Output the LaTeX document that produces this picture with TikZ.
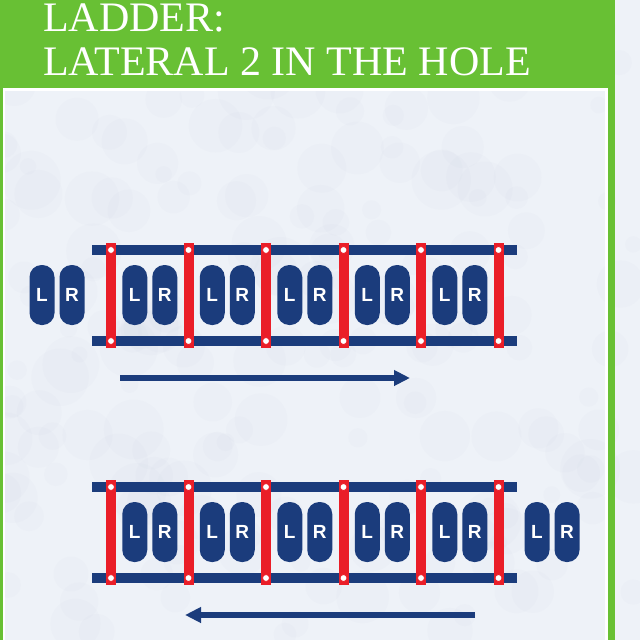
\documentclass[tikz,border=0pt]{standalone}
\usepackage{fontspec}
\setmainfont{Liberation Serif}
\newfontfamily\footfont{Liberation Sans}
\usetikzlibrary{arrows.meta}

\definecolor{headgreen}{RGB}{104,192,52}
\definecolor{navy}{RGB}{27,60,124}
\definecolor{rungred}{RGB}{234,30,40}
\definecolor{snow}{RGB}{238,242,248}
\definecolor{snowshade}{RGB}{196,206,224}

\tikzset{
  title/.style={anchor=base west, inner sep=0pt, text=white, font=\fontsize{42}{45}\selectfont},
  foot/.style={fill=navy, rounded corners=12pt, minimum width=25pt, minimum height=60pt, inner sep=0pt, text=white, font=\footfont\bfseries\fontsize{19}{19}\selectfont},
  rail/.style={fill=navy},
  rung/.style={fill=rungred},
  peg/.style={fill=white, draw=rungred, line width=0.8pt},
  move/.style={draw=navy, line width=6pt, -{Triangle[length=16pt,width=15pt]}},
}

\begin{document}
\begin{tikzpicture}[x=1pt,y=-1pt]
    \useasboundingbox (0,0) rectangle (640,640);
    \fill[snow] (0,0) rectangle (640,640);
    % snowy mottling
    \pgfmathsetseed{11}
    \foreach \k in {1,...,220} {
        \fill[snowshade, opacity=0.07] (640*rnd,640*rnd) circle [radius={(8+22*rnd)*1pt}];
    }
    % green frame and header
    \fill[headgreen] (0,0) rectangle (615,88);
    \fill[headgreen] (608,88) rectangle (615,640);
    \fill[headgreen] (0,88) rectangle (2.5,640);
    \draw[white, line width=2.5pt] (4,641) -- (4,89.5) -- (606.5,89.5) -- (606.5,641);
    \node[title] (head1) at (43,31) {LADDER:};
    \node[title] (head2) at (43,75) {LATERAL 2 IN THE HOLE};

    % first ladder
    \fill[rail] (92,245) rectangle (517,255);
    \fill[rail] (92,336) rectangle (517,346);
    \foreach \x in {111,188.5,266,343.5,421,498.5} {
        \fill[rung] (\x-5,243) rectangle (\x+5,348);
        \filldraw[peg] (\x,250) circle [radius=3.5pt];
        \filldraw[peg] (\x,341) circle [radius=3.5pt];
    }
    \node[foot] (tL0) at (42,295) {L};
    \node[foot] (tR0) at (72,295) {R};
    \foreach \m [count=\i] in {149.75,227.25,304.75,382.25,459.75} {
        \node[foot] (tL\i) at (\m-15,295) {L};
        \node[foot] (tR\i) at (\m+15,295) {R};
    }
    \coordinate (goS) at (120,378);
    \coordinate (goE) at (410,378);
    \draw[move] (goS) -- (goE);

    % second ladder
    \fill[rail] (92,482) rectangle (517,492);
    \fill[rail] (92,573) rectangle (517,583);
    \foreach \x in {111,188.5,266,343.5,421,498.5} {
        \fill[rung] (\x-5,480) rectangle (\x+5,585);
        \filldraw[peg] (\x,487) circle [radius=3.5pt];
        \filldraw[peg] (\x,578) circle [radius=3.5pt];
    }
    \foreach \m [count=\i] in {149.75,227.25,304.75,382.25,459.75} {
        \node[foot] (bL\i) at (\m-15,532) {L};
        \node[foot] (bR\i) at (\m+15,532) {R};
    }
    \node[foot] (bL6) at (537,532) {L};
    \node[foot] (bR6) at (567,532) {R};
    \coordinate (backS) at (475,615);
    \coordinate (backE) at (185,615);
    \draw[move] (backS) -- (backE);
\end{tikzpicture}
\end{document}
